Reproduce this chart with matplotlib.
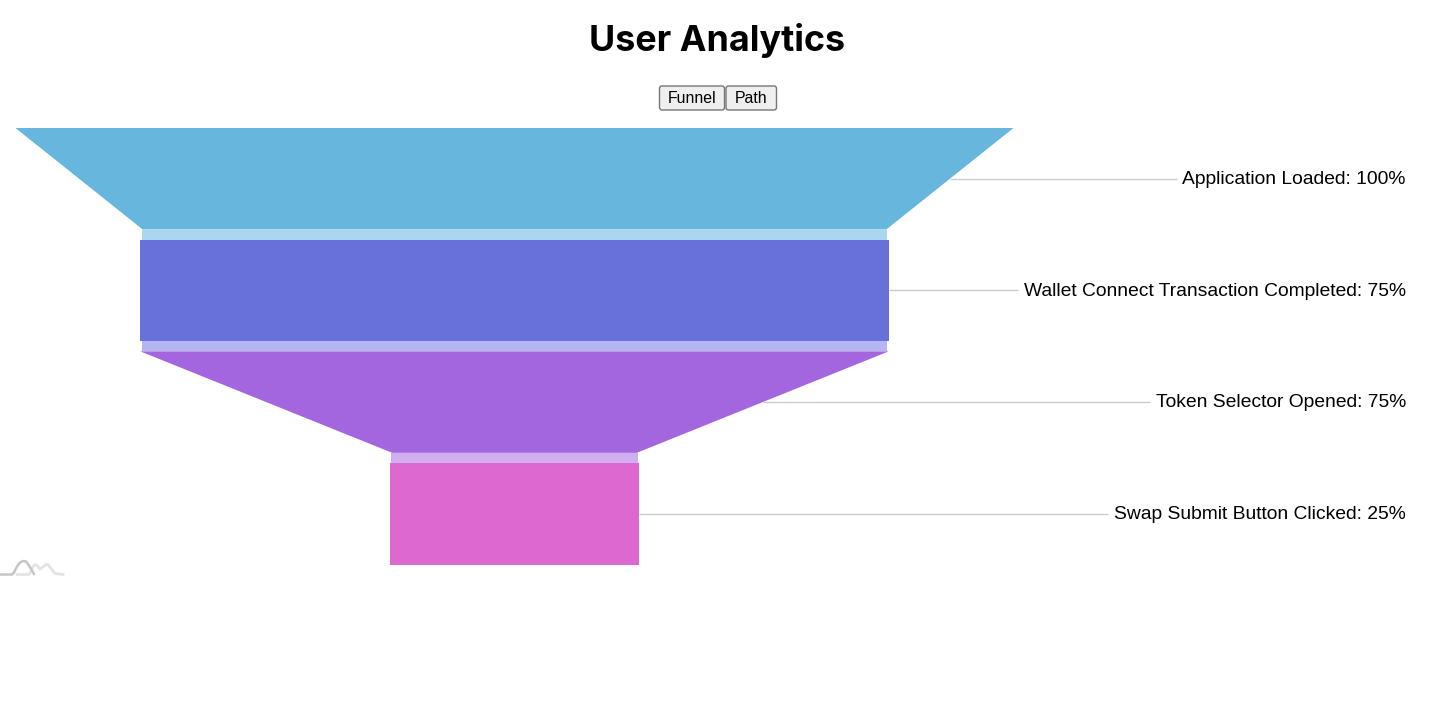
import matplotlib
matplotlib.use("Agg")
import matplotlib.pyplot as plt
from matplotlib.patches import Polygon, FancyBboxPatch

W, H = 1440, 701
stages = ["Application Loaded", "Wallet Connect Transaction Completed",
          "Token Selector Opened", "Swap Submit Button Clicked"]
percent = [100, 75, 75, 25]
colors = ["#66b6dd", "#6870da", "#a366df", "#dd68d0"]
link_colors = ["#aad7ef", "#b3b6f3", "#d1aef0"]
buttons = ["Funnel", "Path"]
spark_dark_x = [0, 12, 14, 17, 20, 23, 26, 29, 32, 34]
spark_dark_y = [0, 0, 2, 8, 12, 13.5, 13, 9, 4, 0.5]
spark_light_x = [17, 29, 31, 33, 35, 37, 40, 43, 46, 48, 51, 55, 63]
spark_light_y = [0, 0, 3, 8, 10, 9, 5.5, 7.5, 10, 10, 6, 1, 0]

fig = plt.figure(figsize=(W / 100, H / 100), dpi=100, facecolor="white")

# funnel axes: x in percent of the widest stage, y in stage rows
CENTER_PX, PCT_PX, TOP_PX, ROW_PX = 514.5, 9.98, 128.0, 111.67
ax = fig.add_axes([0, 0, 1, 1])
ax.set_xlim(-CENTER_PX / PCT_PX, (W - CENTER_PX) / PCT_PX)
ax.set_ylim((H - TOP_PX) / ROW_PX, -TOP_PX / ROW_PX)
ax.axis("off")

BODY = 101.5 / ROW_PX
TAPER_GAP = 0.5
LINK_GAP = 0.3
label_right = (1406 - CENTER_PX) / PCT_PX
texts, leaders = [], []
for i, (name, p) in enumerate(zip(stages, percent)):
    nxt = percent[i + 1] if i + 1 < len(percent) else p
    bottom_w = nxt - (TAPER_GAP if nxt != p else 0)
    ax.add_patch(Polygon([(-p / 2, i), (p / 2, i), (bottom_w / 2, i + BODY), (-bottom_w / 2, i + BODY)],
                         closed=True, facecolor=colors[i], edgecolor="none", zorder=2))
    if i + 1 < len(percent):
        lw = nxt - LINK_GAP
        ax.add_patch(Polygon([(-lw / 2, i + BODY), (lw / 2, i + BODY), (lw / 2, i + 1), (-lw / 2, i + 1)],
                             closed=True, facecolor=link_colors[i], edgecolor="none", zorder=2))
    ymid = i + BODY / 2
    edge = (p + bottom_w) / 4
    t = ax.text(label_right, ymid + 0.008, f"{name}: {p}%", ha="right", va="center",
                fontsize=13.85, family="Liberation Sans", color="black", zorder=3)
    texts.append(t)
    leaders.append((edge, ymid))

fig.canvas.draw()
renderer = fig.canvas.get_renderer()
for t, (edge, ymid) in zip(texts, leaders):
    left_px = t.get_window_extent(renderer).x0
    ax.plot([edge, (left_px - 6 - CENTER_PX) / PCT_PX], [ymid, ymid],
            color="#cccccc", lw=1.0, solid_capstyle="butt", zorder=1)

# page chrome in pixel coordinates
ui = fig.add_axes([0, 0, 1, 1], facecolor="none")
ui.set_xlim(0, W)
ui.set_ylim(H, 0)
ui.axis("off")
ui.text(717.5, 41, "User Analytics", ha="center", va="center", fontsize=25.8,
        fontweight="bold", family="Inter", color="black")
for label, x0, x1 in zip(buttons, [659, 725.5], [725, 777]):
    ui.add_patch(FancyBboxPatch((x0 + 0.5, 86), x1 - x0 - 1, 24, boxstyle="round,pad=0,rounding_size=2.5",
                                facecolor="#efefef", edgecolor="#767676", lw=1.0))
    ui.text((x0 + x1) / 2, 98.5, label, ha="center", va="center", fontsize=11.4,
            family="Liberation Sans", color="black")
base = 574.5
ui.plot(spark_light_x, [base - v for v in spark_light_y], color="#e4e4e4", lw=2.0)
ui.plot(spark_dark_x, [base - v for v in spark_dark_y], color="#c6c6c6", lw=1.8)

fig.savefig("out.png", dpi=100, facecolor="white")
